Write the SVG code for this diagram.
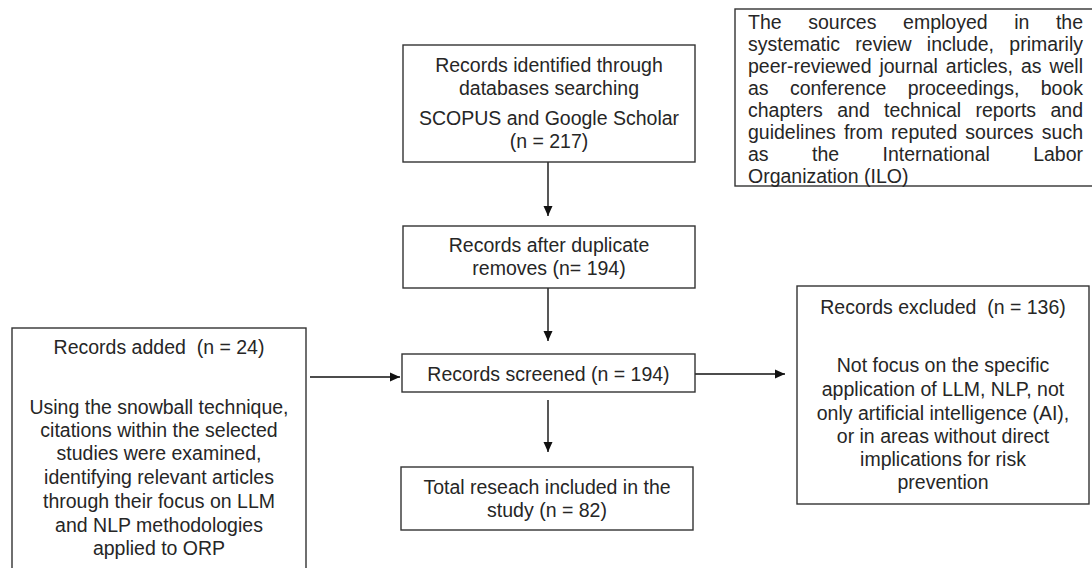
<svg xmlns="http://www.w3.org/2000/svg" width="1092" height="568" viewBox="0 0 1092 568">
<style>
.box{fill:#ffffff;stroke:#333333;stroke-width:1.4}
.t{font-family:"Liberation Sans",Arial,sans-serif;font-size:19.5px;fill:#262626}
.c{text-anchor:middle}
.e{text-anchor:end}
.pre{white-space:pre}
.edge{stroke:#111111;stroke-width:1.4;fill:none}
</style>
<defs>
<marker id="ah" markerUnits="userSpaceOnUse" markerWidth="11" markerHeight="10" refX="10" refY="5" orient="auto">
<path d="M0,0.5 L10,5 L0,9.5 z" fill="#111111"/>
</marker>
</defs>
<rect width="1092" height="568" fill="#ffffff"/>

<g id="connectors">
<line class="edge" x1="548" y1="162" x2="548" y2="216" marker-end="url(#ah)"/>
<line class="edge" x1="548" y1="288" x2="548" y2="341" marker-end="url(#ah)"/>
<line class="edge" x1="548" y1="400" x2="548" y2="452" marker-end="url(#ah)"/>
<line class="edge" x1="310" y1="377" x2="400" y2="377" marker-end="url(#ah)"/>
<line class="edge" x1="695" y1="374" x2="785" y2="374" marker-end="url(#ah)"/>
</g>

<g id="identified">
<rect class="box" x="403" y="45" width="292" height="117"/>
<text class="t c" x="549" y="72">Records identified through</text>
<text class="t c" x="549" y="95">databases searching</text>
<text class="t c" x="549" y="125">SCOPUS and Google Scholar</text>
<text class="t c" x="549" y="148">(n = 217)</text>
</g>

<g id="duplicates">
<rect class="box" x="403" y="226" width="292" height="62"/>
<text class="t c" x="549" y="252">Records after duplicate</text>
<text class="t c" x="549" y="275">removes (n= 194)</text>
</g>

<g id="screened">
<rect class="box" x="402" y="354" width="293" height="38"/>
<text class="t c" x="548.5" y="381">Records screened (n = 194)</text>
</g>

<g id="included">
<rect class="box" x="401" y="467" width="292" height="63"/>
<text class="t c" x="547" y="494">Total reseach included in the</text>
<text class="t c" x="547" y="517">study (n = 82)</text>
</g>

<g id="added">
<rect class="box" x="12" y="328" width="294" height="260"/>
<text class="t c pre" x="159" y="354" xml:space="preserve">Records added  (n = 24)</text>
<text class="t c" x="159" y="414">Using the snowball technique,</text>
<text class="t c" x="159" y="437">citations within the selected</text>
<text class="t c" x="159" y="460">studies were examined,</text>
<text class="t c" x="159" y="484">identifying relevant articles</text>
<text class="t c" x="159" y="508">through their focus on LLM</text>
<text class="t c" x="159" y="532">and NLP methodologies</text>
<text class="t c" x="159" y="555">applied to ORP</text>
</g>

<g id="excluded">
<rect class="box" x="797" y="286" width="292" height="218"/>
<text class="t c pre" x="943" y="314" xml:space="preserve">Records excluded  (n = 136)</text>
<text class="t c" x="943" y="372">Not focus on the specific</text>
<text class="t c" x="943" y="396">application of LLM, NLP, not</text>
<text class="t c" x="943" y="420">only artificial intelligence (AI),</text>
<text class="t c" x="943" y="443">or in areas without direct</text>
<text class="t c" x="943" y="466">implications for risk</text>
<text class="t c" x="943" y="489">prevention</text>
</g>

<g id="sources-note">
<rect class="box" x="735" y="9" width="370" height="177"/>
<text class="t" y="29"><tspan x="748">The</tspan><tspan x="808.2">sources</tspan><tspan x="903.1">employed</tspan><tspan x="1014.2">in</tspan></text>
<text class="t e" x="1083" y="29">the</text>
<text class="t" y="51"><tspan x="748">systematic</tspan><tspan x="855.3">review</tspan><tspan x="926.8">include,</tspan></text>
<text class="t e" x="1083" y="51">primarily</text>
<text class="t" y="73"><tspan x="748">peer-reviewed</tspan><tspan x="879.4">journal</tspan><tspan x="945.8">articles,</tspan><tspan x="1020.9">as</tspan></text>
<text class="t e" x="1083" y="73">well</text>
<text class="t" y="95"><tspan x="748">as</tspan><tspan x="789.9">conference</tspan><tspan x="907.7">proceedings,</tspan></text>
<text class="t e" x="1083" y="95">book</text>
<text class="t" y="117"><tspan x="748">chapters</tspan><tspan x="837.2">and</tspan><tspan x="884.1">technical</tspan><tspan x="975.4">reports</tspan></text>
<text class="t e" x="1083" y="117">and</text>
<text class="t" y="139"><tspan x="748">guidelines</tspan><tspan x="843.9">from</tspan><tspan x="891.1">reputed</tspan><tspan x="965.3">sources</tspan></text>
<text class="t e" x="1083" y="139">such</text>
<text class="t" y="161"><tspan x="748">as</tspan><tspan x="812">the</tspan><tspan x="882.5">International</tspan></text>
<text class="t e" x="1083" y="161">Labor</text>
<text class="t" x="748" y="183">Organization (ILO)</text>
</g>
</svg>
